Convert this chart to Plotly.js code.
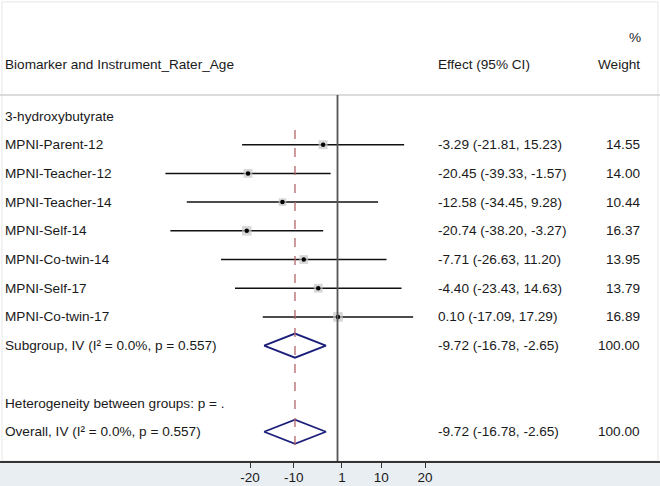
<!DOCTYPE html>
<html>
<head>
<meta charset="utf-8">
<script src="https://cdn.plot.ly/plotly-3.0.1.min.js"></script>
<style>html,body{margin:0;padding:0;background:#fff;}#chart{width:660px;height:486px;}</style>
</head>
<body>
<div id="chart"></div>
<script>
// ---- data ----
const groupLabel = "3-hydroxybutyrate";
const studies = ["MPNI-Parent-12","MPNI-Teacher-12","MPNI-Teacher-14","MPNI-Self-14","MPNI-Co-twin-14","MPNI-Self-17","MPNI-Co-twin-17"];
const est = [-3.29,-20.45,-12.58,-20.74,-7.71,-4.40,0.10];
const lo  = [-21.81,-39.33,-34.45,-38.20,-26.63,-23.43,-17.09];
const hi  = [15.23,-1.57,9.28,-3.27,11.20,14.63,17.29];
const weight = [14.55,14.00,10.44,16.37,13.95,13.79,16.89];
const subLabel = "Subgroup, IV (I\u00B2 = 0.0%, p = 0.557)";
const hetLabel = "Heterogeneity between groups: p = .";
const overallLabel = "Overall, IV (I\u00B2 = 0.0%, p = 0.557)";
const pooled = {est:-9.72, lo:-16.78, hi:-2.65, weight:100.00};
const tickVals = [-20,-10,1,10,20];
const tickText = ["-20","-10","1","10","20"];
const headerLeft = "Biomarker and Instrument_Rater_Age";
const headerEffect = "Effect (95% CI)";
const headerWeight = "Weight";
const headerPct = "%";

// ---- layout helpers ----
const W = 660, H = 486;
const FONT = "Liberation Sans, Arial, Helvetica, sans-serif";
const fs = 13.6;
const px = p => p / W;
const fmt = v => v.toFixed(2);
const effText = (e,l,h) => `${fmt(e)} (${fmt(l)}, ${fmt(h)})`;

const rowGroup = 0;
const rowStudy = studies.map((_, i) => i + 1);
const rowSub = studies.length + 1;
const rowHet = rowSub + 2;
const rowOverall = rowHet + 1;

const traces = [];
// CI lines
studies.forEach((s, i) => {
  traces.push({x:[lo[i], hi[i]], y:[rowStudy[i], rowStudy[i]], mode:'lines',
    line:{color:'#111', width:1.5}, hoverinfo:'skip', showlegend:false});
});
// weight boxes
traces.push({x: est, y: rowStudy, mode:'markers', hoverinfo:'skip', showlegend:false,
  marker:{symbol:'square', color:'#c6c6c6', size: weight.map(w => 2.35*Math.sqrt(w)), line:{width:0}}});
// point estimates
traces.push({x: est, y: rowStudy, mode:'markers', hoverinfo:'skip', showlegend:false,
  marker:{symbol:'circle', color:'#000', size:4.5}});
// diamonds
[rowSub, rowOverall].forEach(r => {
  const h = 0.42;
  traces.push({x:[pooled.lo, pooled.est, pooled.hi, pooled.est, pooled.lo],
    y:[r, r - h, r, r + h, r], mode:'lines', line:{color:'#1c1f7a', width:1.8},
    hoverinfo:'skip', showlegend:false});
});

const ann = [];
function A(text, xp, row, anchor){
  ann.push({text, x: px(xp), xref:'paper', y: row, yref:'y', xanchor: anchor, yanchor:'middle',
    showarrow:false, font:{family:FONT, size:fs, color:'#1a1a1a'}});
}
A(headerPct, 643, -2.75, 'right');
A(headerLeft, 3, -1.81, 'left');
A(headerEffect, 436, -1.81, 'left');
A(headerWeight, 642, -1.81, 'right');
A(groupLabel, 3, rowGroup, 'left');
studies.forEach((s, i) => {
  A(s, 3, rowStudy[i], 'left');
  A(effText(est[i], lo[i], hi[i]), 436, rowStudy[i], 'left');
  A(fmt(weight[i]), 642, rowStudy[i], 'right');
});
A(subLabel, 3, rowSub, 'left');
A(effText(pooled.est, pooled.lo, pooled.hi), 436, rowSub, 'left');
A(fmt(pooled.weight), 642, rowSub, 'right');
A(hetLabel, 3, rowHet, 'left');
A(overallLabel, 3, rowOverall, 'left');
A(effText(pooled.est, pooled.lo, pooled.hi), 436, rowOverall, 'left');
A(fmt(pooled.weight), 642, rowOverall, 'right');

const shapes = [
  // faint panel border
  {type:'rect', xref:'paper', yref:'paper', x0:0.003, x1:0.997, y0:0, y1:0.996,
    line:{color:'#e6e6e6', width:1}, fillcolor:'rgba(0,0,0,0)', layer:'below'},
  // header separator
  {type:'line', xref:'paper', yref:'y', x0:0, x1:1, y0:-0.73, y1:-0.73, line:{color:'#cfcfcf', width:1.5}},
  // null line
  {type:'line', xref:'x', yref:'y', x0:0, x1:0, y0:-0.73, y1:12.1, line:{color:'#555', width:1.8}},
  // pooled estimate dashed line
  {type:'line', xref:'x', yref:'y', x0:pooled.est, x1:pooled.est, y0:0.49, y1:11.55,
    line:{color:'#b5666a', width:1.3, dash:'dash'}},
];

const pxPerUnit = 4.375, zeroPx = 337.5;
const layout = {
  width: W, height: H,
  margin:{l:0, r:0, t:0, b:25, pad:0},
  paper_bgcolor:'#e9eef3', plot_bgcolor:'#ffffff',
  showlegend:false,
  xaxis:{range:[-zeroPx/pxPerUnit, (W - zeroPx)/pxPerUnit], tickvals:tickVals, ticktext:tickText,
    ticks:'outside', ticklen:5, tickwidth:1, tickcolor:'#333', showgrid:false, zeroline:false,
    showline:true, linecolor:'#333', linewidth:1.5, mirror:false, ticklabelstandoff:-2,
    tickfont:{family:FONT, size:13.5, color:'#1a1a1a'}, fixedrange:true},
  yaxis:{range:[12.02, -4.042], visible:false, showgrid:false, zeroline:false, fixedrange:true},
  annotations: ann,
  shapes: shapes,
  font:{family:FONT}
};
Plotly.newPlot('chart', traces, layout, {displayModeBar:false, staticPlot:true});
</script>
</body>
</html>
